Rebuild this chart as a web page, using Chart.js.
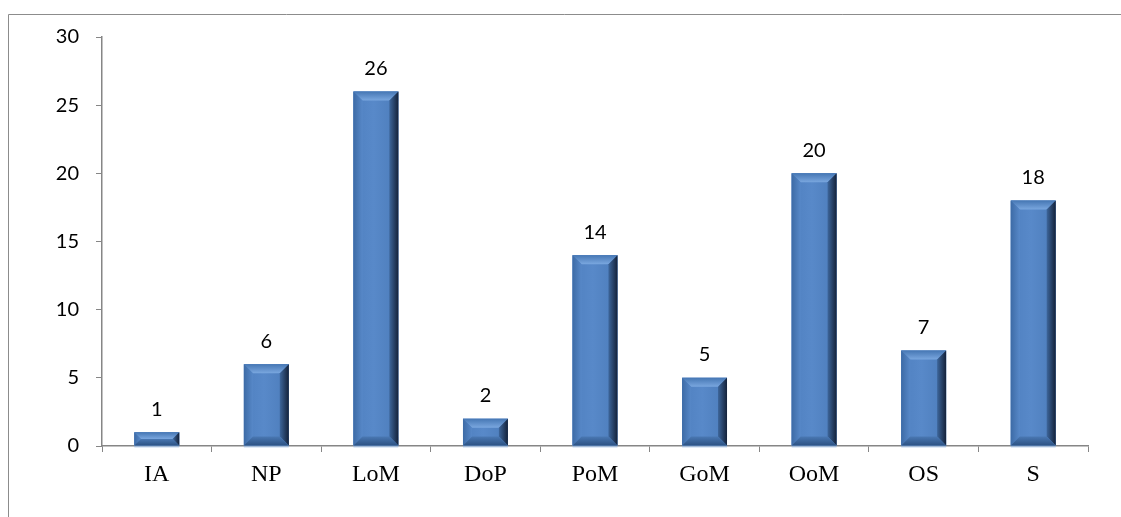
<!DOCTYPE html>
<html>
<head>
<meta charset="utf-8">
<script src="https://cdn.jsdelivr.net/npm/chart.js@4/dist/chart.umd.min.js"></script>
<style>
  html, body { margin: 0; padding: 0; background: #ffffff; }
  #wrap { width: 1121px; height: 517px; position: relative; }
</style>
</head>
<body>
<div id="wrap"><canvas id="c" width="1121" height="517"></canvas></div>
<script>
// Categories and counts
const categories = ['IA', 'NP', 'LoM', 'DoP', 'PoM', 'GoM', 'OoM', 'OS', 'S'];
const counts = [1, 6, 26, 2, 14, 5, 20, 7, 18];
const yTicks = [0, 5, 10, 15, 20, 25, 30];

const AXIS_GRAY = '#868686';

// Thin frame along the top and left edges of the canvas
const framePlugin = {
  id: 'frame',
  beforeDraw(chart) {
    const ctx = chart.ctx;
    ctx.save();
    ctx.strokeStyle = '#8c8c8c';
    ctx.lineWidth = 1;
    ctx.beginPath();
    ctx.moveTo(8.5, 517);
    ctx.lineTo(8.5, 14.5);
    ctx.lineTo(1121, 14.5);
    ctx.stroke();
    ctx.restore();
  }
};

// Bevelled look for each bar, drawn over the element the library laid out
const bevelPlugin = {
  id: 'bevel',
  afterDatasetsDraw(chart) {
    const ctx = chart.ctx;
    const meta = chart.getDatasetMeta(0);
    meta.data.forEach((bar) => {
      const w = bar.width;
      const L = bar.x - w / 2, R = bar.x + w / 2;
      const T = Math.min(bar.y, bar.base), B = Math.max(bar.y, bar.base);
      const h = B - T;
      const b = Math.min(9, h / 2);
      ctx.save();
      // soft pale fringe along the base
      ctx.fillStyle = 'rgba(140,180,230,0.55)';
      ctx.fillRect(L, B - 1, w, 3);
      // face
      const face = ctx.createLinearGradient(L, 0, R, 0);
      face.addColorStop(0, '#4f80c0');
      face.addColorStop(0.45, '#5889c9');
      face.addColorStop(1, '#4c7cba');
      ctx.fillStyle = face;
      ctx.fillRect(L, T, w, h);
      // top bevel
      const top = ctx.createLinearGradient(0, T, 0, T + b);
      top.addColorStop(0, '#4677b4');
      top.addColorStop(1, '#7aa7df');
      ctx.fillStyle = top;
      ctx.beginPath();
      ctx.moveTo(L, T); ctx.lineTo(R, T); ctx.lineTo(R - b, T + b); ctx.lineTo(L + b, T + b);
      ctx.closePath(); ctx.fill();
      // left bevel
      const left = ctx.createLinearGradient(L, 0, L + b, 0);
      left.addColorStop(0, '#3d6ba6');
      left.addColorStop(1, '#5788c8');
      ctx.fillStyle = left;
      ctx.beginPath();
      ctx.moveTo(L, T); ctx.lineTo(L + b, T + b); ctx.lineTo(L + b, B - b); ctx.lineTo(L, B);
      ctx.closePath(); ctx.fill();
      // right bevel
      const right = ctx.createLinearGradient(R - b, 0, R, 0);
      right.addColorStop(0, '#3d669b');
      right.addColorStop(1, '#14223a');
      ctx.fillStyle = right;
      ctx.beginPath();
      ctx.moveTo(R, T); ctx.lineTo(R, B); ctx.lineTo(R - b, B - b); ctx.lineTo(R - b, T + b);
      ctx.closePath(); ctx.fill();
      // bottom bevel
      const bot = ctx.createLinearGradient(0, B - b, 0, B);
      bot.addColorStop(0, '#4a78b3');
      bot.addColorStop(1, '#2c5283');
      ctx.fillStyle = bot;
      ctx.beginPath();
      ctx.moveTo(L, B); ctx.lineTo(L + b, B - b); ctx.lineTo(R - b, B - b); ctx.lineTo(R, B);
      ctx.closePath(); ctx.fill();
      ctx.restore();
    });
  }
};

// Value labels above the bars
const valueLabelPlugin = {
  id: 'valueLabels',
  afterDatasetsDraw(chart) {
    const ctx = chart.ctx;
    const meta = chart.getDatasetMeta(0);
    const data = chart.data.datasets[0].data;
    ctx.save();
    ctx.font = '20px Lato, "Liberation Sans", sans-serif';
    ctx.fillStyle = '#000000';
    ctx.textAlign = 'center';
    ctx.textBaseline = 'middle';
    meta.data.forEach((bar, i) => {
      ctx.fillText(String(data[i]), bar.x, bar.y - 23);
    });
    ctx.restore();
  }
};

new Chart(document.getElementById('c'), {
  type: 'bar',
  data: {
    labels: categories,
    datasets: [{
      data: counts,
      backgroundColor: '#5585c6',
      borderWidth: 0,
      barPercentage: 0.41,
      categoryPercentage: 1.0
    }]
  },
  options: {
    responsive: false,
    animation: false,
    devicePixelRatio: 1,
    layout: { padding: { top: 37, right: 33, left: 0, bottom: 0 } },
    plugins: {
      legend: { display: false },
      tooltip: { enabled: false },
      title: { display: false }
    },
    scales: {
      x: {
        offset: true,
        grid: {
          offset: true,
          drawOnChartArea: false,
          drawTicks: true,
          tickLength: 6,
          color: AXIS_GRAY
        },
        border: { display: true, color: AXIS_GRAY, width: 1.5 },
        ticks: {
          color: '#000000',
          padding: 8,
          font: { family: '"Liberation Serif", "Times New Roman", serif', size: 24 }
        },
        afterFit(scale) { scale.height = 71; }
      },
      y: {
        min: 0,
        max: 30,
        afterBuildTicks(scale) { scale.ticks = yTicks.map(v => ({ value: v })); },
        grid: {
          drawOnChartArea: false,
          drawTicks: true,
          tickLength: 6,
          color: AXIS_GRAY
        },
        border: { display: true, color: AXIS_GRAY, width: 1.5 },
        ticks: {
          color: '#000000',
          padding: 17,
          font: { family: 'Lato, "Liberation Sans", sans-serif', size: 20 }
        },
        afterFit(scale) { scale.width = 102; }
      }
    }
  },
  plugins: [framePlugin, bevelPlugin, valueLabelPlugin]
});
</script>
</body>
</html>
